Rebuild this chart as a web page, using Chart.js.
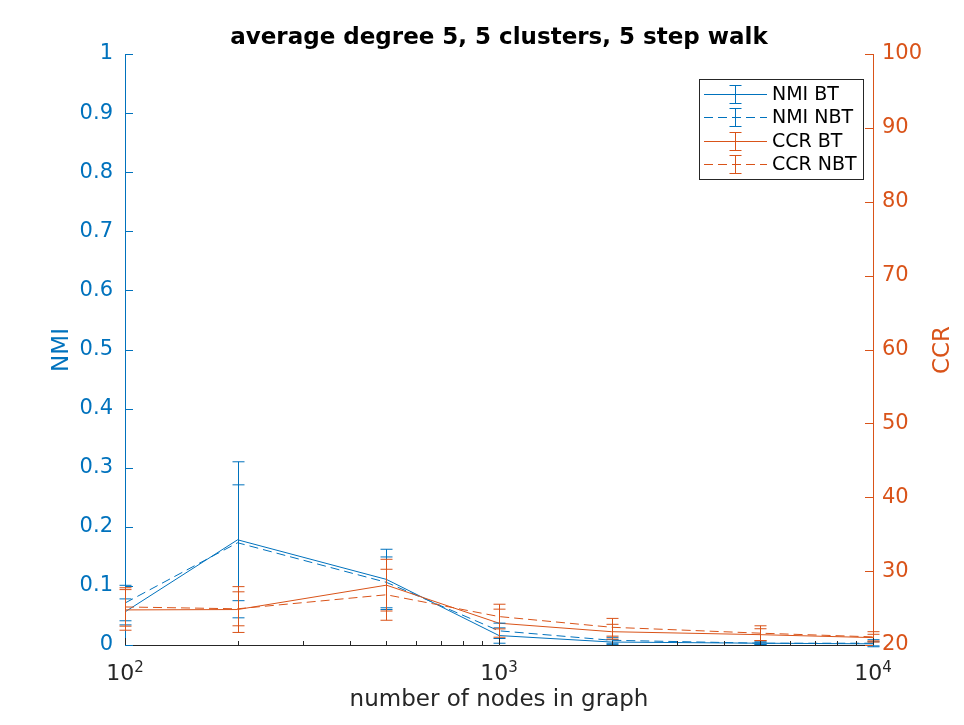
<!DOCTYPE html>
<html>
<head>
<meta charset="utf-8">
<script src="https://cdn.jsdelivr.net/npm/chart.js@4.4.0/dist/chart.umd.min.js"></script>
<style>
  html, body { margin: 0; padding: 0; background: #fff; }
</style>
</head>
<body>
<canvas id="myChart" width="964" height="725"></canvas>
<script>
// values
const nodes = [100, 200, 500, 1000, 2000, 5000, 10000];

const nmiBt     = [0.056, 0.178, 0.111, 0.016, 0.005, 0.003, 0.002];
const nmiBtErr  = [0.022, 0.132, 0.051, 0.013, 0.004, 0.002, 0.0035];
const nmiNbt    = [0.071, 0.173, 0.106, 0.024, 0.008, 0.003, 0.003];
const nmiNbtErr = [0.030, 0.098, 0.043, 0.013, 0.005, 0.002, 0.006];

const ccrBt     = [24.75, 24.8, 28.1, 22.95, 21.8, 21.4, 21.0];
const ccrBtErr  = [2.75, 3.1, 3.5, 1.9, 1.0, 0.8, 0.45];
const ccrNbt    = [25.15, 24.9, 26.8, 23.85, 22.4, 21.6, 21.1];
const ccrNbtErr = [2.6, 2.3, 3.45, 1.67, 1.2, 1.0, 0.7];

const nmiTicks = [0, 0.1, 0.2, 0.3, 0.4, 0.5, 0.6, 0.7, 0.8, 0.9, 1];
const ccrTicks = [20, 30, 40, 50, 60, 70, 80, 90, 100];
const xTickValues = [100, 1000, 10000];
const xTickLabels = [['10', '2'], ['10', '3'], ['10', '4']];
const xMinorTicks = [200, 300, 400, 500, 600, 700, 800, 900, 2000, 3000, 4000, 5000, 6000, 7000, 8000, 9000];

const BLUE = '#0072BD';
const ORANGE = '#D95319';
const DARK = '#262626';
const FONT = 'DejaVu Sans';

Chart.defaults.font.family = FONT;

function pts(ys) {
  return nodes.map((x, i) => ({ x: x, y: ys[i] }));
}

// errorbars + inner tick marks + x labels + titles
const decorations = {
  id: 'decorations',
  afterDatasetsDraw(chart) {
    const ctx = chart.ctx;
    const xs = chart.scales.x;
    ctx.save();
    chart.data.datasets.forEach(ds => {
      const ys = chart.scales[ds.yAxisID];
      ctx.strokeStyle = ds.borderColor;
      ctx.lineWidth = 1;
      ctx.setLineDash([]);
      ds.data.forEach((p, i) => {
        const px = Math.round(xs.getPixelForValue(p.x)) + 0.5;
        const top = ys.getPixelForValue(p.y + ds.err[i]);
        const bot = ys.getPixelForValue(p.y - ds.err[i]);
        ctx.beginPath();
        ctx.moveTo(px, top); ctx.lineTo(px, bot);
        ctx.moveTo(px - 6, top); ctx.lineTo(px + 6, top);
        ctx.moveTo(px - 6, bot); ctx.lineTo(px + 6, bot);
        ctx.stroke();
      });
    });
    ctx.restore();
  },
  afterDraw(chart) {
    const ctx = chart.ctx;
    const a = chart.chartArea;
    const xs = chart.scales.x, yl = chart.scales.y, yr = chart.scales.y1;
    ctx.save();
    ctx.lineWidth = 1;

    // y ticks (inside)
    ctx.strokeStyle = BLUE;
    nmiTicks.forEach(v => {
      const py = Math.round(yl.getPixelForValue(v)) + 0.5;
      ctx.beginPath(); ctx.moveTo(a.left, py); ctx.lineTo(a.left + 8, py); ctx.stroke();
    });
    ctx.strokeStyle = ORANGE;
    ccrTicks.forEach(v => {
      const py = Math.round(yr.getPixelForValue(v)) + 0.5;
      ctx.beginPath(); ctx.moveTo(a.right, py); ctx.lineTo(a.right - 8, py); ctx.stroke();
    });

    // x ticks (inside)
    ctx.strokeStyle = DARK;
    xTickValues.forEach(v => {
      const px = Math.round(xs.getPixelForValue(v)) + 0.5;
      ctx.beginPath(); ctx.moveTo(px, a.bottom); ctx.lineTo(px, a.bottom - 7); ctx.stroke();
    });
    xMinorTicks.forEach(v => {
      const px = Math.round(xs.getPixelForValue(v)) + 0.5;
      ctx.beginPath(); ctx.moveTo(px, a.bottom); ctx.lineTo(px, a.bottom - 4); ctx.stroke();
    });

    // x tick labels with superscript
    ctx.fillStyle = DARK;
    ctx.textBaseline = 'alphabetic';
    ctx.textAlign = 'left';
    xTickValues.forEach((v, i) => {
      const px = xs.getPixelForValue(v);
      ctx.font = '22px ' + FONT;
      const w1 = ctx.measureText(xTickLabels[i][0]).width;
      ctx.font = '15px ' + FONT;
      const w2 = ctx.measureText(xTickLabels[i][1]).width;
      const start = px - (w1 + w2) / 2;
      ctx.font = '22px ' + FONT;
      ctx.fillText(xTickLabels[i][0], start, 680);
      ctx.font = '15px ' + FONT;
      ctx.fillText(xTickLabels[i][1], start + w1, 672);
    });

    // axis titles
    ctx.textAlign = 'center';
    ctx.textBaseline = 'middle';
    ctx.font = '23px ' + FONT;
    ctx.fillStyle = DARK;
    ctx.fillText('number of nodes in graph', (a.left + a.right) / 2, 700);

    ctx.save();
    ctx.translate(62, 350);
    ctx.rotate(-Math.PI / 2);
    ctx.fillStyle = BLUE;
    ctx.fillText('NMI', 0, 0);
    ctx.restore();

    ctx.save();
    ctx.translate(943, 350);
    ctx.rotate(-Math.PI / 2);
    ctx.fillStyle = ORANGE;
    ctx.fillText('CCR', 0, 0);
    ctx.restore();

    // title
    ctx.font = 'bold 23px ' + FONT;
    ctx.fillStyle = '#000';
    ctx.fillText('average degree 5, 5 clusters, 5 step walk', (a.left + a.right) / 2, 38);

    // legend
    const lx = 699.5, ly = 79.5, lw = 164, lh = 100;
    ctx.fillStyle = '#fff';
    ctx.fillRect(lx, ly, lw, lh);
    ctx.strokeStyle = DARK;
    ctx.strokeRect(lx, ly, lw, lh);
    const rows = [93.5, 117, 140.5, 164];
    ctx.font = '19px ' + FONT;
    ctx.textAlign = 'left';
    chart.data.datasets.forEach((ds, i) => {
      const ry = Math.round(rows[i]) + 0.5;
      ctx.strokeStyle = ds.borderColor;
      ctx.setLineDash(ds.borderDash || []);
      ctx.beginPath(); ctx.moveTo(704, ry); ctx.lineTo(767, ry); ctx.stroke();
      ctx.setLineDash([]);
      ctx.beginPath();
      ctx.moveTo(735.5, ry - 9); ctx.lineTo(735.5, ry + 9);
      ctx.moveTo(729.5, ry - 9); ctx.lineTo(741.5, ry - 9);
      ctx.moveTo(729.5, ry + 9); ctx.lineTo(741.5, ry + 9);
      ctx.stroke();
      ctx.fillStyle = '#000';
      ctx.fillText(ds.label, 772, ry + 1);
    });
    ctx.restore();
  }
};

const ctx = document.getElementById('myChart');

new Chart(ctx, {
  type: 'line',
  data: {
    datasets: [
      { label: 'NMI BT', data: pts(nmiBt), err: nmiBtErr, yAxisID: 'y', borderColor: BLUE, borderWidth: 1, pointRadius: 0, order: 4 },
      { label: 'NMI NBT', data: pts(nmiNbt), err: nmiNbtErr, yAxisID: 'y', borderColor: BLUE, borderWidth: 1, borderDash: [9, 5], pointRadius: 0, order: 3 },
      { label: 'CCR BT', data: pts(ccrBt), err: ccrBtErr, yAxisID: 'y1', borderColor: ORANGE, borderWidth: 1, pointRadius: 0, order: 2 },
      { label: 'CCR NBT', data: pts(ccrNbt), err: ccrNbtErr, yAxisID: 'y1', borderColor: ORANGE, borderWidth: 1, borderDash: [9, 5], pointRadius: 0, order: 1 }
    ]
  },
  options: {
    responsive: false,
    animation: false,
    layout: { padding: { top: 54, left: 0, right: 0, bottom: 0 } },
    plugins: {
      legend: { display: false },
      tooltip: { enabled: false },
      title: { display: false }
    },
    scales: {
      x: {
        type: 'logarithmic',
        min: 100,
        max: 10000,
        grid: { display: false, drawTicks: false },
        border: { color: DARK, width: 1 },
        ticks: { display: false },
        afterFit: s => { s.height = 80; }
      },
      y: {
        position: 'left',
        min: 0,
        max: 1,
        afterBuildTicks: s => { s.ticks = nmiTicks.map(v => ({ value: v })); },
        grid: { display: false, drawTicks: false },
        border: { color: BLUE, width: 1 },
        ticks: { color: BLUE, font: { size: 21 }, padding: 12, callback: v => String(v) },
        afterFit: s => { s.width = 125; }
      },
      y1: {
        position: 'right',
        min: 20,
        max: 100,
        afterBuildTicks: s => { s.ticks = ccrTicks.map(v => ({ value: v })); },
        grid: { display: false, drawTicks: false },
        border: { color: ORANGE, width: 1 },
        ticks: { color: ORANGE, font: { size: 21 }, padding: 9, callback: v => String(v) },
        afterFit: s => { s.width = 91; }
      }
    }
  },
  plugins: [decorations]
});
</script>
</body>
</html>
